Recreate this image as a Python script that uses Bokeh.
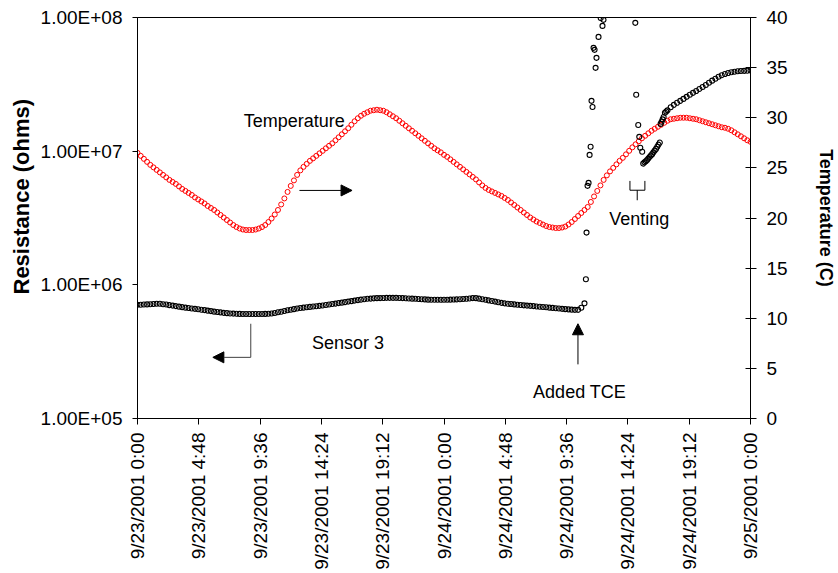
import math
from bokeh.plotting import figure
from bokeh.models import (Range1d, LinearAxis, LinearScale, FixedTicker, Label,
                          Arrow, NormalHead, Title)
from bokeh.embed import file_html
from bokeh.resources import INLINE

# ---------------- data ----------------
STEP_H = 0.25  # sampling interval of the regular records, hours since 9/23/2001 0:00

temp_c = [
    26.5, 26.2, 25.9, 25.6, 25.3, 25.05, 24.8, 24.55,
    24.3, 24.05, 23.8, 23.6, 23.4, 23.15, 22.9, 22.7,
    22.5, 22.3, 22.05, 21.85, 21.65, 21.45, 21.2, 21.0,
    20.8, 20.55, 20.3, 20.05, 19.8, 19.55, 19.3, 19.1,
    18.95, 18.85, 18.8, 18.8, 18.8, 18.85, 18.95, 19.1,
    19.3, 19.6, 19.95, 20.35, 20.8, 21.35, 21.95, 22.6,
    23.2, 23.75, 24.3, 24.75, 25.1, 25.4, 25.7, 25.95,
    26.2, 26.45, 26.7, 26.95, 27.2, 27.45, 27.75, 28.05,
    28.35, 28.65, 28.95, 29.3, 29.65, 29.95, 30.2, 30.4,
    30.55, 30.7, 30.75, 30.8, 30.75, 30.7, 30.55, 30.35,
    30.15, 29.95, 29.7, 29.45, 29.2, 28.95, 28.7, 28.45,
    28.2, 27.95, 27.7, 27.45, 27.2, 26.95, 26.75, 26.55,
    26.3, 26.1, 25.85, 25.6, 25.35, 25.1, 24.85, 24.6,
    24.35, 24.1, 23.85, 23.55, 23.25, 23.0, 22.8, 22.65,
    22.5, 22.35, 22.2, 22.0, 21.8, 21.55, 21.3, 21.05,
    20.8, 20.55, 20.3, 20.05, 19.85, 19.65, 19.5, 19.35,
    19.2, 19.1, 19.05, 19.0, 19.0, 19.05, 19.15, 19.35,
    19.6, 19.9, 20.2, 20.5, 20.8, 21.1, 21.6, 22.15,
    22.7, 23.25, 23.8, 24.25, 24.65, 25.0, 25.35, 25.7,
    26.0, 26.35, 26.7, 27.05, 27.35, 27.65, 27.95, 28.2,
    28.45, 28.7, 28.9, 29.1, 29.3, 29.5, 29.7, 29.85,
    29.9, 29.95, 30.0, 30.0, 30.0, 29.95, 29.9, 29.85,
    29.75, 29.65, 29.55, 29.45, 29.35, 29.25, 29.15, 29.05,
    29.0, 28.9, 28.75, 28.55, 28.35, 28.15, 27.95, 27.75,
    27.6,
]

# Sensor 3 resistance (ohms), regular records before TCE addition
res_regular_ohms = [
    7.09e5, 7.09e5, 7.12e5, 7.14e5, 7.16e5, 7.19e5, 7.21e5, 7.21e5,
    7.16e5, 7.12e5, 7.05e5, 6.99e5, 6.93e5, 6.87e5, 6.81e5, 6.75e5,
    6.71e5, 6.66e5, 6.61e5, 6.56e5, 6.51e5, 6.47e5, 6.41e5, 6.36e5,
    6.30e5, 6.26e5, 6.22e5, 6.17e5, 6.14e5, 6.11e5, 6.09e5, 6.07e5,
    6.06e5, 6.05e5, 6.05e5, 6.05e5, 6.05e5, 6.05e5, 6.05e5, 6.05e5,
    6.06e5, 6.07e5, 6.11e5, 6.16e5, 6.23e5, 6.29e5, 6.37e5, 6.45e5,
    6.51e5, 6.58e5, 6.65e5, 6.71e5, 6.75e5, 6.80e5, 6.84e5, 6.88e5,
    6.92e5, 6.96e5, 7.01e5, 7.06e5, 7.12e5, 7.18e5, 7.24e5, 7.30e5,
    7.36e5, 7.42e5, 7.49e5, 7.55e5, 7.62e5, 7.69e5, 7.75e5, 7.81e5,
    7.86e5, 7.89e5, 7.92e5, 7.95e5, 7.96e5, 7.97e5, 7.99e5, 7.99e5,
    7.99e5, 7.99e5, 7.97e5, 7.96e5, 7.93e5, 7.91e5, 7.88e5, 7.86e5,
    7.83e5, 7.81e5, 7.78e5, 7.75e5, 7.74e5, 7.73e5, 7.73e5, 7.73e5,
    7.73e5, 7.74e5, 7.75e5, 7.77e5, 7.78e5, 7.81e5, 7.83e5, 7.86e5,
    7.91e5, 7.96e5, 7.95e5, 7.88e5, 7.81e5, 7.73e5, 7.65e5, 7.57e5,
    7.49e5, 7.41e5, 7.33e5, 7.27e5, 7.22e5, 7.18e5, 7.14e5, 7.10e5,
    7.06e5, 7.02e5, 6.99e5, 6.96e5, 6.93e5, 6.89e5, 6.85e5, 6.82e5,
    6.79e5, 6.75e5, 6.72e5, 6.68e5, 6.65e5, 6.61e5, 6.58e5, 6.55e5,
    6.52e5, 6.50e5, 6.50e5, 6.73e5,
    7.27e5,
]

# Sensor 3 after TCE addition (irregular records): hours and ohms
res_late_hours = [
    35.11, 35.16, 35.24, 35.32, 35.40, 35.48, 35.55, 35.63, 35.71, 35.79,
    35.87, 35.94, 36.10, 36.27, 36.41, 36.49,
    38.98, 39.05, 39.21, 39.29, 39.37, 39.52,
    39.60, 39.70, 39.80, 39.90, 40.00, 40.10, 40.20, 40.30, 40.40, 40.50,
    40.60, 40.70, 40.80, 40.90,
    40.96, 41.04, 41.12, 41.20,
    41.30, 41.40, 41.50, 41.75, 42.00, 42.25, 42.50, 42.75, 43.00, 43.25,
    43.50, 43.75, 44.00, 44.25, 44.50, 44.75, 45.00, 45.25, 45.50, 45.75,
    46.00, 46.25, 46.50, 46.75, 47.00, 47.25, 47.50, 47.75, 48.00,
]
res_late_ohms = [
    1.10e6, 2.46e6, 5.50e6, 5.79e6, 9.38e6, 1.08e7, 2.38e7, 2.14e7, 5.93e7, 5.73e7,
    4.20e7, 4.99e7, 7.16e7, 9.90e7, 8.65e7, 9.60e7,
    9.12e7, 2.64e7, 1.57e7, 1.28e7, 1.06e7, 9.89e6,
    8.07e6, 8.25e6, 8.40e6, 8.57e6, 8.80e6, 9.05e6, 9.28e6, 9.50e6, 9.80e6, 1.01e7,
    1.04e7, 1.08e7, 1.12e7, 1.16e7,
    1.60e7, 1.66e7, 1.73e7, 1.80e7,
    1.94e7, 1.98e7, 2.02e7, 2.13e7, 2.22e7, 2.30e7, 2.38e7, 2.46e7, 2.55e7, 2.64e7,
    2.73e7, 2.82e7, 2.92e7, 3.02e7, 3.13e7, 3.25e7, 3.37e7, 3.48e7, 3.60e7, 3.70e7,
    3.78e7, 3.84e7, 3.89e7, 3.93e7, 3.96e7, 3.98e7, 3.99e7, 4.00e7, 4.01e7,
]

x_ticks = [0, 4.8, 9.6, 14.4, 19.2, 24, 28.8, 33.6, 38.4, 43.2, 48]
x_tick_labels = [
    "9/23/2001 0:00", "9/23/2001 4:48", "9/23/2001 9:36", "9/23/2001 14:24",
    "9/23/2001 19:12", "9/24/2001 0:00", "9/24/2001 4:48", "9/24/2001 9:36",
    "9/24/2001 14:24", "9/24/2001 19:12", "9/25/2001 0:00",
]
res_ticks = [1e5, 1e6, 1e7, 1e8]
res_tick_labels = ["1.00E+05", "1.00E+06", "1.00E+07", "1.00E+08"]
temp_ticks = [0, 5, 10, 15, 20, 25, 30, 35, 40]

temp_hours = [k * STEP_H for k in range(len(temp_c))]
res_regular_hours = [k * STEP_H for k in range(len(res_regular_ohms))]

# ---------------- annotation placement (hours, °C on the right scale) ----------------
ANN = {
    "temp_label": (8.32, 29.7),
    "temp_arrow": ((12.68, 22.75), (16.8, 22.75)),
    "sensor_label": (13.67, 7.55),
    "sensor_stem": ((8.87, 9.45), (8.87, 6.1)),
    "sensor_arrow": ((8.87, 6.1), (5.9, 6.1)),
    "tce_label": (34.62, 2.6),
    "tce_arrow": ((34.49, 5.4), (34.49, 9.45)),
    "vent_label": (36.93, 19.87),
    "vent_bracket": ([38.56, 38.56, 39.73, 39.73], [23.7, 22.77, 22.77, 23.7]),
    "vent_stem": ([39.13, 39.13], [22.77, 21.77]),
}

FONT = "Liberation Sans"

p = figure(width=838, height=573, y_axis_type="log",
           x_range=Range1d(0, 48), y_range=Range1d(1e5, 1e8),
           output_backend="svg", toolbar_location=None,
           min_border_left=137, min_border_right=84,
           min_border_top=17, min_border_bottom=155)
p.extra_y_ranges = {"temp": Range1d(0, 40)}
p.extra_y_scales = {"temp": LinearScale()}

p.xgrid.visible = False
p.ygrid.visible = False
p.outline_line_color = "black"
p.outline_line_width = 1
p.outline_line_alpha = 1.0
p.background_fill_color = "white"
p.border_fill_color = "white"

# x axis
xa = p.xaxis[0]
xa.ticker = FixedTicker(ticks=x_ticks)
xa.major_label_overrides = {t: l for t, l in zip(x_ticks, x_tick_labels)}
xa.major_label_orientation = math.pi / 2
xa.major_tick_out = 6
xa.major_tick_in = 0
xa.minor_tick_line_color = None
xa.major_label_standoff = 8
xa.major_label_text_font = FONT
xa.major_label_text_font_size = "19px"
xa.major_label_text_color = "black"
xa.axis_line_color = "black"
xa.major_tick_line_color = "black"

# left axis
ya = p.yaxis[0]
ya.ticker = FixedTicker(ticks=res_ticks)
ya.major_label_overrides = {t: l for t, l in zip(res_ticks, res_tick_labels)}
ya.major_tick_out = 5
ya.major_tick_in = 0
ya.minor_tick_line_color = None
ya.major_label_standoff = 10
ya.major_label_text_font = FONT
ya.major_label_text_font_size = "19px"
ya.major_label_text_color = "black"
ya.axis_line_color = "black"
ya.major_tick_line_color = "black"

# left title (sits above the vertical centre, as in the original)
p.add_layout(Title(text="Resistance (ohms)", align="left", offset=124,
                   text_font=FONT, text_font_size="22px", text_font_style="bold",
                   text_color="black", standoff=8), "left")

# right axis
ra = LinearAxis(y_range_name="temp", ticker=FixedTicker(ticks=temp_ticks))
ra.major_tick_out = 6
ra.major_tick_in = 5
ra.minor_tick_line_color = None
ra.major_label_standoff = 10
ra.major_label_text_font = FONT
ra.major_label_text_font_size = "19px"
ra.major_label_text_color = "black"
ra.axis_line_color = "black"
ra.major_tick_line_color = "black"
ra.axis_label = "Temperature (C)"
ra.axis_label_text_font = FONT
ra.axis_label_text_font_style = "bold"
ra.axis_label_text_font_size = "18px"
ra.axis_label_text_color = "black"
ra.axis_label_standoff = 25
p.add_layout(ra, "right")

# series
p.scatter(temp_hours, temp_c, y_range_name="temp", marker="circle", size=5,
          line_color="red", line_width=1, fill_color=None)
p.scatter(res_regular_hours + res_late_hours, res_regular_ohms + res_late_ohms,
          marker="circle", size=5, line_color="black", line_width=1.1, fill_color=None)

# annotations
def add_label(key, text, align="left"):
    x, y = ANN[key]
    p.add_layout(Label(x=x, y=y, text=text, y_range_name="temp", text_font=FONT,
                       text_font_size="18px", text_color="black",
                       text_align=align, text_baseline="alphabetic"))

def add_arrow(key, color="black"):
    (x0, y0), (x1, y1) = ANN[key]
    p.add_layout(Arrow(end=NormalHead(size=11, fill_color="black", line_color="black"),
                       x_start=x0, y_start=y0, x_end=x1, y_end=y1,
                       y_range_name="temp", line_color=color, line_width=1))

add_label("temp_label", "Temperature")
add_label("sensor_label", "Sensor 3")
add_label("tce_label", "Added TCE", align="center")
add_label("vent_label", "Venting")
add_arrow("temp_arrow")
add_arrow("sensor_arrow", color="#404040")
add_arrow("tce_arrow")
(sx0, sy0), (sx1, sy1) = ANN["sensor_stem"]
p.line([sx0, sx1], [sy0, sy1], y_range_name="temp", line_color="#404040", line_width=1)
bx, by = ANN["vent_bracket"]
p.line(bx, by, y_range_name="temp", line_color="black", line_width=1)
vx, vy = ANN["vent_stem"]
p.line(vx, vy, y_range_name="temp", line_color="black", line_width=1)

open("out.html", "w").write(file_html(p, INLINE))
